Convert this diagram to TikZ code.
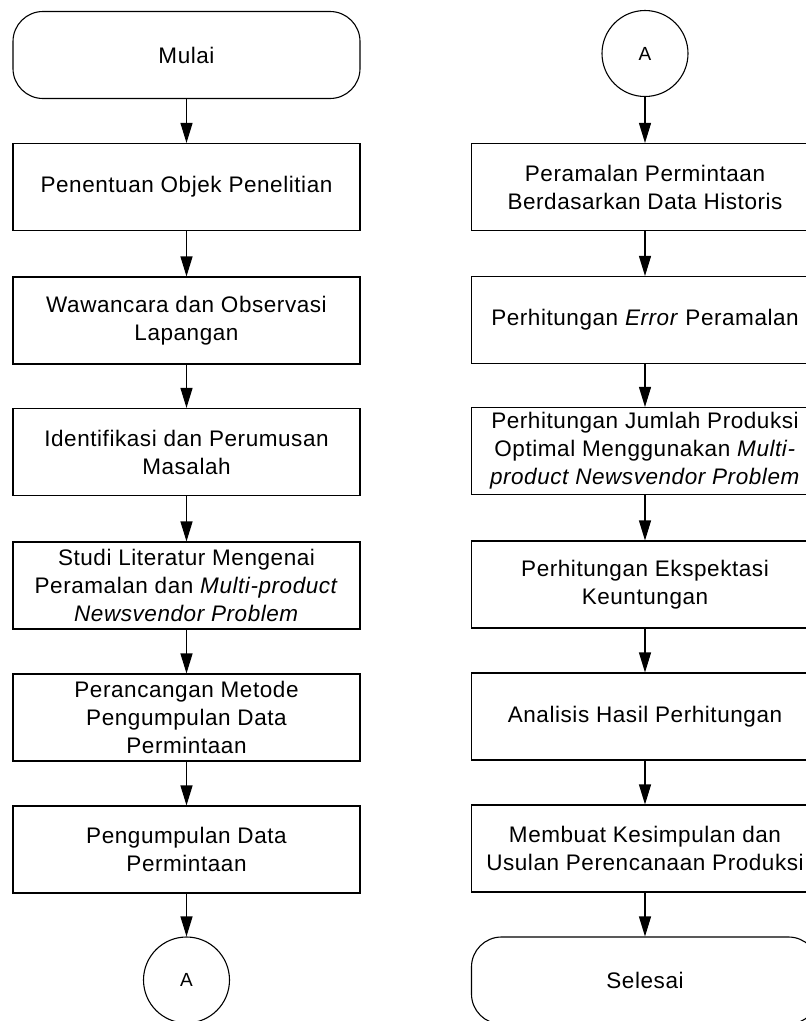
\documentclass[tikz,border=0pt]{standalone}
\usepackage{fontspec}
\setmainfont[LetterSpace=2.5]{Liberation Sans}
\usetikzlibrary{arrows.meta}
\begin{document}
\begin{tikzpicture}[x=1pt,y=-1pt,
  every node/.style={font=\fontsize{22.5}{28}\selectfont},
  box/.style={draw,line width=1.1pt,rectangle,minimum width=347pt,minimum height=87pt,align=center,inner sep=0pt},
  term/.style={box,rounded corners=30pt},
  conn/.style={draw,line width=1.1pt,circle,minimum size=86pt,inner sep=0pt,font=\fontsize{19}{21}\selectfont},
  flow/.style={line width=1.1pt,-{Triangle[length=20pt,width=12pt]}}]
\useasboundingbox (0,0) rectangle (806,1021);
\clip (0,0) rectangle (806,1021);
% left column
\node[term] (mulai) at (186.5,55) {Mulai};
\node[box] (l1) at (186.5,187) {Penentuan Objek Penelitian};
\node[box] (l2) at (186.5,320.5) {Wawancara dan Observasi\\Lapangan};
\node[box] (l3) at (186.5,452) {Identifikasi dan Perumusan\\Masalah};
\node[box] (l4) at (186.5,585.5) {Studi Literatur Mengenai\\Peramalan dan \textit{Multi-product}\\\textit{Newsvendor Problem}};
\node[box] (l5) at (186.5,717.5) {Perancangan Metode\\Pengumpulan Data\\Permintaan};
\node[box] (l6) at (186.5,849.5) {Pengumpulan Data\\Permintaan};
\node[conn] (ca) at (186.5,980) {A};
% right column
\node[conn] (cb) at (645,53.5) {A};
\node[box] (r1) at (645,187) {Peramalan Permintaan\\Berdasarkan Data Historis};
\node[box] (r2) at (645,320) {Perhitungan \textit{Error} Peramalan};
\node[box] (r3) at (645,451) {Perhitungan Jumlah Produksi\\Optimal Menggunakan \textit{Multi-}\\\textit{product Newsvendor Problem}};
\node[box] (r4) at (645,584.5) {Perhitungan Ekspektasi\\Keuntungan};
\node[box] (r5) at (645,716.5) {Analisis Hasil Perhitungan};
\node[box] (r6) at (645,848.5) {Membuat Kesimpulan dan\\Usulan Perencanaan Produksi};
\node[term] (selesai) at (645,980.5) {Selesai};
% connectors
\draw[flow] (mulai) -- (l1);
\draw[flow] (l1) -- (l2);
\draw[flow] (l2) -- (l3);
\draw[flow] (l3) -- (l4);
\draw[flow] (l4) -- (l5);
\draw[flow] (l5) -- (l6);
\draw[flow] (l6) -- (ca);
\draw[flow] (cb) -- (r1);
\draw[flow] (r1) -- (r2);
\draw[flow] (r2) -- (r3);
\draw[flow] (r3) -- (r4);
\draw[flow] (r4) -- (r5);
\draw[flow] (r5) -- (r6);
\draw[flow] (r6) -- (selesai);
\end{tikzpicture}
\end{document}
